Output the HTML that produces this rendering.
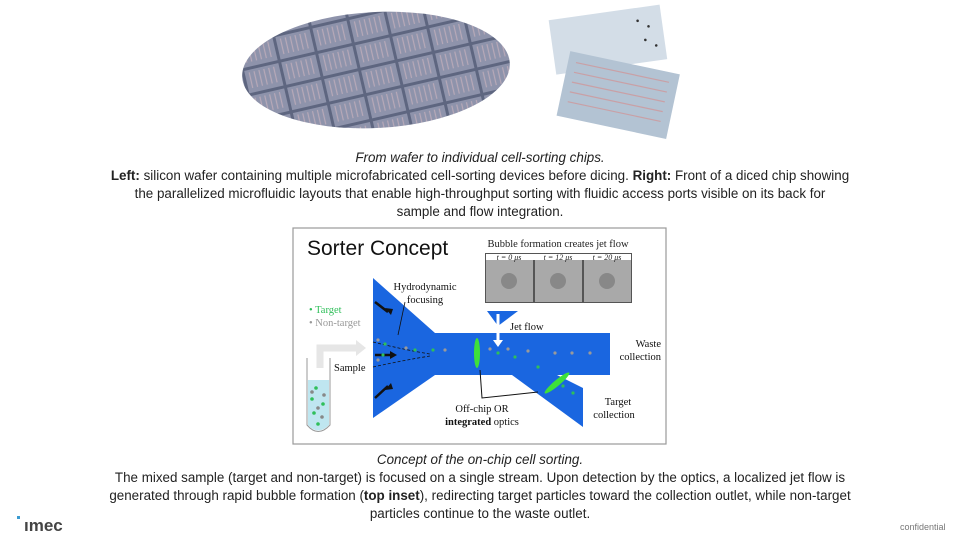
<!DOCTYPE html>
<html><head><meta charset="utf-8"><style>
body{margin:0;width:960px;height:540px;background:#fff;overflow:hidden;position:relative;font-family:"Liberation Sans",sans-serif;color:#222}
.t{position:absolute;left:0;width:960px;text-align:center;font-size:13.4px;line-height:18px}
</style></head><body>
<svg width="960" height="540" style="position:absolute;left:0;top:0">
<defs>
<pattern id="grid" width="38" height="26" patternUnits="userSpaceOnUse" patternTransform="rotate(-10)">
<rect width="38" height="26" fill="#5e6680"/><rect x="1.5" y="1.5" width="35" height="23" fill="#8e93ab"/>
<path d="M6 4v16M11 4v16M16 4v16M21 4v16M26 4v16M31 4v16" stroke="#b7a9b8" stroke-width="1.2"/></pattern>
</defs>
<ellipse cx="376" cy="70" rx="134" ry="58" transform="rotate(-3 376 70)" fill="url(#grid)"/>
<g transform="rotate(-8 609 40)"><rect x="552" y="12" width="112" height="55" fill="#d3dde7"/>
<g fill="#333"><circle cx="640" cy="25" r="1.3"/><circle cx="650" cy="32" r="1.3"/><circle cx="645" cy="45" r="1.3"/><circle cx="655" cy="52" r="1.3"/></g></g>
<g transform="rotate(12 618 96)"><rect x="562" y="62" width="112" height="66" fill="#b3c3d3"/>
<path d="M570 72h95M570 82h95M570 92h95M570 102h95M570 112h95" stroke="#c9a0a6" stroke-width="1.2"/></g>
<rect x="293" y="228" width="373" height="216" fill="#fff" stroke="#9a9a9a" stroke-width="1.2"/>
<text x="307" y="255" font-size="21" font-family="Liberation Sans" fill="#111">Sorter Concept</text>
<text x="558" y="247" font-size="10.5" text-anchor="middle" font-family="Liberation Serif" fill="#222">Bubble formation creates jet flow</text>
<rect x="485" y="253" width="147" height="50" fill="#555"/>
<rect x="486" y="260" width="47" height="42" fill="#a9a9a9"/><rect x="535" y="260" width="47" height="42" fill="#a9a9a9"/><rect x="584" y="260" width="47" height="42" fill="#a9a9a9"/>
<rect x="486" y="254" width="145" height="6" fill="#fff"/>
<g font-size="8" font-family="Liberation Serif" font-style="italic" text-anchor="middle" fill="#222"><text x="509" y="260">t = 0 μs</text><text x="558" y="260">t = 12 μs</text><text x="607" y="260">t = 20 μs</text></g>
<g fill="#888"><circle cx="509" cy="281" r="8"/><circle cx="558" cy="281" r="8"/><circle cx="607" cy="281" r="8"/></g>
<polygon points="373,278 435,333 610,333 610,375 557,375 583,388 583,427 512,375 435,375 373,418" fill="#1a66e0"/>
<polygon points="487,311 518,311 498,326" fill="#1a66e0"/>
<path d="M498 314V342" stroke="#fff" stroke-width="3"/><polygon points="493,340 503,340 498,347" fill="#fff"/>
<path d="M373 342 Q405 350 430 354 M373 367 Q405 360 430 356" stroke="#111" stroke-width="0.8" stroke-dasharray="3,2" fill="none"/>
<path d="M405 302 L398 335" stroke="#111" stroke-width="0.8"/>
<g stroke="#111" stroke-width="2.5"><path d="M375 302 L388 312"/><path d="M375 398 L388 386"/><path d="M375 355 L392 355"/></g>
<g fill="#111"><polygon points="391,315 385,308 393,309"/><polygon points="391,383 385,390 393,389"/><polygon points="397,355 390,351 390,359"/></g>
<ellipse cx="477" cy="353" rx="3" ry="15" fill="#3ee03a"/>
<ellipse cx="557" cy="383" rx="3" ry="16" transform="rotate(50 557 383)" fill="#3ee03a"/>
<path d="M480 370 L482 398 L538 392" stroke="#111" stroke-width="1" fill="none"/>
<g fill="#9a9a9a"><circle cx="378" cy="340" r="1.6"/><circle cx="378" cy="360" r="1.6"/><circle cx="406" cy="348" r="1.6"/><circle cx="445" cy="350" r="1.6"/><circle cx="490" cy="349" r="1.6"/><circle cx="508" cy="349" r="1.6"/><circle cx="528" cy="351" r="1.6"/><circle cx="555" cy="353" r="1.6"/><circle cx="572" cy="353" r="1.6"/><circle cx="590" cy="353" r="1.6"/></g>
<g fill="#2fbf5a"><circle cx="385" cy="344" r="1.6"/><circle cx="383" cy="355" r="1.6"/><circle cx="415" cy="350" r="1.6"/><circle cx="433" cy="350" r="1.6"/><circle cx="498" cy="353" r="1.6"/><circle cx="515" cy="357" r="1.6"/><circle cx="538" cy="367" r="1.6"/><circle cx="563" cy="386" r="1.6"/><circle cx="573" cy="393" r="1.6"/></g>
<path d="M320 368 V348 H358" stroke="#e6e6e6" stroke-width="7" fill="none"/><polygon points="356,340 366,348 356,356" fill="#e6e6e6"/>
<path d="M307 358 V425 Q318 438 330 425 V358" fill="none" stroke="#999" stroke-width="1"/>
<path d="M308 380 H329 V425 Q318 436 308 425Z" fill="#bfe6f0"/>
<g fill="#2fbf5a"><circle cx="316" cy="388" r="1.8"/><circle cx="312" cy="399" r="1.8"/><circle cx="323" cy="404" r="1.8"/><circle cx="314" cy="413" r="1.8"/><circle cx="318" cy="424" r="1.8"/></g>
<g fill="#888"><circle cx="312" cy="392" r="1.8"/><circle cx="324" cy="395" r="1.8"/><circle cx="318" cy="408" r="1.8"/><circle cx="322" cy="417" r="1.8"/></g>
<g font-family="Liberation Serif" font-size="10.5" fill="#111">
<text x="425" y="290" text-anchor="middle">Hydrodynamic</text><text x="425" y="303" text-anchor="middle">focusing</text>
<text x="309" y="313" fill="#2fbf5a">• Target</text><text x="309" y="326" fill="#999">• Non-target</text>
<text x="334" y="371">Sample</text><text x="510" y="330">Jet flow</text>
<text x="661" y="347" text-anchor="end">Waste</text><text x="661" y="360" text-anchor="end">collection</text>
<text x="618" y="405" text-anchor="middle">Target</text><text x="614" y="418" text-anchor="middle">collection</text>
<text x="482" y="412" text-anchor="middle">Off-chip OR</text><text x="482" y="425" text-anchor="middle"><tspan font-weight="bold">integrated</tspan> optics</text>
</g>
<rect x="17" y="516" width="3" height="3" fill="#3a9bd1"/>
<text x="24" y="531" font-size="17" font-weight="bold" fill="#444" font-family="Liberation Sans">ımec</text>
<text x="900" y="530" font-size="9" fill="#777" font-family="Liberation Sans">confidential</text>
</svg>
<div class="t" style="top:149px"><i>From wafer to individual cell-sorting chips.</i><br><b>Left:</b> silicon wafer containing multiple microfabricated cell-sorting devices before dicing. <b>Right:</b> Front of a diced chip showing<br>the parallelized microfluidic layouts that enable high-throughput sorting with fluidic access ports visible on its back for<br>sample and flow integration.</div>
<div class="t" style="top:451px"><i>Concept of the on-chip cell sorting.</i><br>The mixed sample (target and non-target) is focused on a single stream. Upon detection by the optics, a localized jet flow is<br>generated through rapid bubble formation (<b>top inset</b>), redirecting target particles toward the collection outlet, while non-target<br>particles continue to the waste outlet.</div>
</body></html>
